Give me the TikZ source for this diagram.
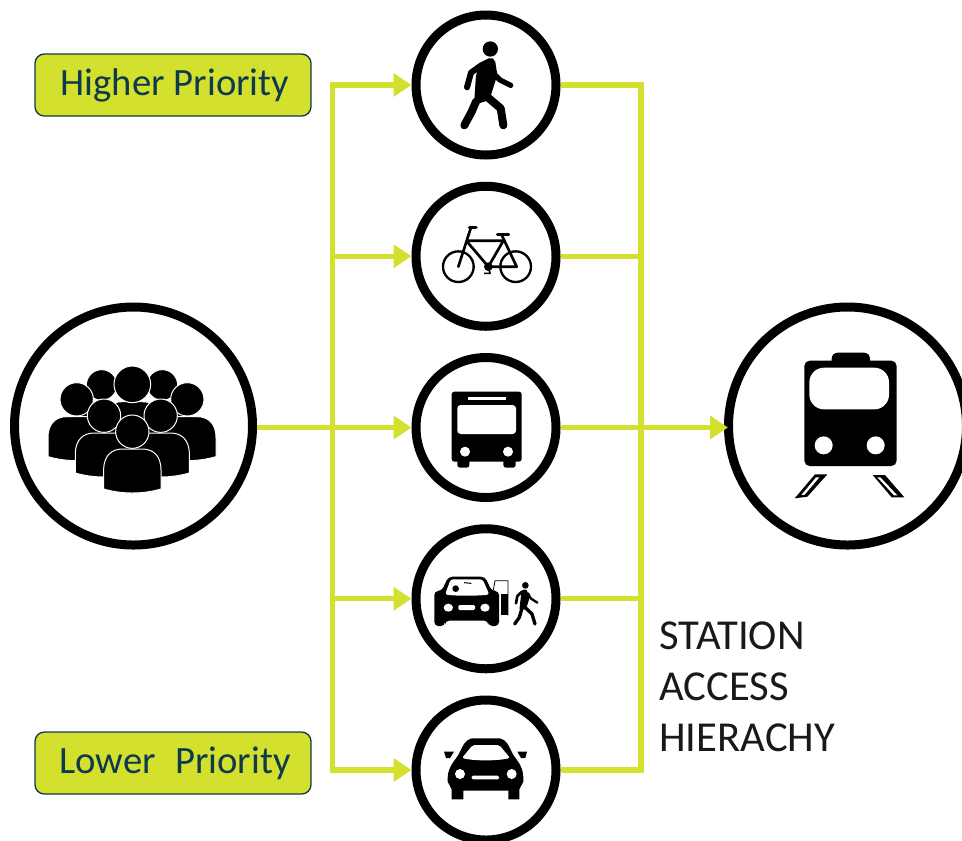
\documentclass[tikz,border=0pt]{standalone}
\usepackage{fontspec}
\setmainfont{Carlito}
\usetikzlibrary{arrows.meta}
\definecolor{limegreen}{HTML}{D3E02D}
\definecolor{deepteal}{HTML}{0F3A4E}
\tikzset{
	ring/.style={draw=black, circle, line width=6.75pt, inner sep=0pt, fill=white},
	link/.style={draw=limegreen, line width=4pt},
	flow/.style={link, -{Triangle[length=13.5pt, width=17pt]}},
	prioritybox/.style={draw=deepteal, fill=limegreen, rounded corners=7pt, line width=1pt, text=deepteal,
		minimum width=207pt, minimum height=46.5pt, inner sep=0pt, font=\fontsize{29}{32}\selectfont},
	icon/.style={x=.25pt, y=-.25pt},
	cutout/.style={fill=white}
}
\begin{document}
\begin{tikzpicture}[x=.75pt, y=-.75pt]
	\useasboundingbox (0,0) rectangle (962,840);
	% junctions of the two green trunks
	\coordinate (split) at (332.5,427.5);
	\coordinate (merge) at (641,427.5);
	% rings of the access modes
	\foreach \index in {1,...,5}
	{
		\node[ring, minimum size=105pt] (mode_\index) at (486,{85+(\index-1)*171.25}) {};
	}
	% end rings
	\node[ring, minimum size=178.5pt] (crowd) at (133.5,426) {};
	\node[ring, minimum size=178.5pt] (train) at (847.5,426) {};
	% trunks
	\draw[link, line cap=rect] (split |- mode_1) -- (split |- mode_5);
	\draw[link, line cap=rect] (merge |- mode_1) -- (merge |- mode_5);
	\draw[link] (crowd.east |- split) -- (split);
	% branches
	\foreach \index in {1,...,5}
	{
		\draw[flow] (split |- mode_\index) -- (mode_\index);
		\draw[link] (mode_\index) -- (merge |- mode_\index);
	}
	\draw[flow, shorten >=-3pt] (merge) -- (train.west |- merge);
	% labels
	\node[prioritybox] (higher) at (173,85) {\hspace{3pt}Higher Priority};
	\node[prioritybox] (lower) at (173,763) {\raisebox{-1.5pt}{\hspace{3pt}Lower\hspace{.27em} Priority}};
	\node[anchor=north west, align=left, inner sep=0pt, text=black!90,
		font=\fontsize{32}{38.2}\selectfont] (hierarchy) at (659,622) {STATION\\ACCESS\\HIERACHY};
	% walker
	\begin{scope}[shift={(400,0)}, icon]
		\fill (271,147) circle (23);
		\fill[rounded corners=1.5pt] (240,188) -- (272,172) -- (285,180) -- (292,225) -- (268,300) -- (222,315) -- (228,225) -- cycle;
		\draw[line width=4.5pt, line cap=round, line join=round] (245,195) -- (213,218) -- (201,262);
		\draw[line width=4pt, line cap=round, line join=round] (285,225) -- (300,240) -- (332,256);
		\draw[line width=6pt, line cap=round, line join=round] (255,285) -- (302,325) -- (310,376);
		\draw[line width=6pt, line cap=round, line join=round] (228,305) -- (215,335) -- (193,376);
	\end{scope}
	% bicycle
	\begin{scope}[shift={(400,0)}, icon]
		\draw[line width=1.75pt] (175,800) circle (46) (347,800) circle (46);
		\draw[line width=2pt, line join=round] (202,722) -- (310,722) -- (265,800) -- (202,726);
		\draw[line width=2pt, line join=round] (305,705) -- (350,800) -- (265,800);
		\draw[line width=2pt, line cap=round] (212,685) -- (175,800);
		\draw[line width=2.25pt, line cap=round] (208,683) -- (228,683);
		\draw[line width=2.25pt, line cap=round] (292,702) -- (326,702);
		\fill (265,800) circle (13);
		\draw[line width=1.25pt] (252,820) -- (270,820) -- (265,800);
	\end{scope}
	% bus
	\begin{scope}[shift={(400,350)}, icon]
		\fill[rounded corners=2pt] (155,125) rectangle (365,335);
		\fill[rounded corners=2pt] (172,325) rectangle (208,353);
		\fill[rounded corners=2pt] (310,325) rectangle (347,353);
		\fill[cutout, rounded corners=2.5pt] (172,165) rectangle (348,252);
		\fill[cutout] (203,142) rectangle (317,149);
		\fill[cutout] (195,305) circle (15) (324,305) circle (15);
	\end{scope}
	% car with door and passenger
	\begin{scope}[shift={(400,510)}, icon]
		\fill[rounded corners=3pt] (145,200) -- (255,200) -- (275,243) -- (297,243) -- (297,348) -- (265,348) -- (265,332) -- (135,332) -- (135,348) -- (103,348) -- (103,243) -- (125,243) -- cycle;
		\fill[cutout, rounded corners=2pt] (152,208) -- (248,208) -- (268,254) .. controls (220,258) and (180,258) .. (135,254) -- cycle;
		\fill (167,236) circle (10);
		\draw[line width=.75pt] (192,218) -- (214,220);
		\fill[cutout] (145,293) ellipse (14 and 12) (255,293) ellipse (14 and 12);
		\fill[cutout, rounded corners=1pt] (175,285) rectangle (225,300);
		% door
		\draw[line width=.6pt] (280,240) -- (285,212) -- (324,212) -- (324,316);
		\fill (303,252) rectangle (325,316);
		% passenger
		\fill (376,226) circle (10);
		\fill[rounded corners=1pt] (365,240) -- (380,238) -- (388,265) -- (378,298) -- (358,300) -- cycle;
		\draw[line width=2pt, line cap=round, line join=round] (366,245) -- (352,258) -- (348,280);
		\draw[line width=1.75pt, line cap=round, line join=round] (384,250) -- (392,265) -- (412,278);
		\draw[line width=2.5pt, line cap=round, line join=round] (378,295) -- (396,312) -- (405,342);
		\draw[line width=2.5pt, line cap=round, line join=round] (365,298) -- (358,322) -- (344,342);
	\end{scope}
	% car
	\begin{scope}[shift={(400,510)}, icon]
		\fill (215,685) -- (300,685) .. controls (320,690) and (325,705) .. (340,735) .. controls (358,760) and (372,775) .. (370,815) -- (358,838) -- (358,868) -- (325,868) -- (325,842) -- (190,842) -- (190,868) -- (155,868) -- (155,838) -- (143,815) .. controls (141,775) and (158,760) .. (175,735) .. controls (190,705) and (195,690) .. (215,685) -- cycle;
		\fill[cutout, rounded corners=1.5pt] (218,705) -- (298,705) -- (330,744) .. controls (290,753) and (225,753) .. (186,744) -- cycle;
		\fill (132,725) -- (162,725) -- (150,744) -- (138,744) -- cycle;
		\fill (352,725) -- (381,725) -- (376,744) -- (363,744) -- cycle;
		\fill[cutout] (180,792) circle (15) (335,792) circle (15);
		\fill[cutout, rounded corners=1pt] (215,797) rectangle (297,808);
	\end{scope}
	% crowd
	\begin{scope}[shift={(0,300)}, icon]
		\foreach \hx/\hy/\hr in {305/255/46, 487/255/46, 397/253/55, 230/298/50, 562/298/50, 312/347/50, 482/347/50, 397/395/50}
		{
			\filldraw[draw=white, line width=.75pt] (\hx-86,\hy+172) -- (\hx-86,\hy+115) .. controls (\hx-86,\hy+70) and (\hx-60,\hy+52) .. (\hx-30,\hy+52) -- (\hx+30,\hy+52) .. controls (\hx+60,\hy+52) and (\hx+86,\hy+70) .. (\hx+86,\hy+115) -- (\hx+86,\hy+172) .. controls (\hx+30,\hy+188) and (\hx-30,\hy+188) .. cycle;
			\filldraw[draw=white, line width=.75pt] (\hx,\hy) circle (\hr);
		}
	\end{scope}
	% train
	\begin{scope}[shift={(720,300)}, icon]
		\fill[rounded corners=2pt] (335,190) -- (335,168) -- (345,158) -- (440,158) -- (450,168) -- (450,190) -- cycle;
		\fill[rounded corners=4pt] (253,182) rectangle (530,498);
		\fill[cutout, rounded corners=11pt] (268,203) rectangle (507,328);
		\fill[cutout] (311,436) circle (27) (467,436) circle (27);
		\fill (285,523) -- (322,523) -- (262,590) -- (224,595) -- cycle;
		\fill[cutout] (288,532) -- (298,532) -- (254,584) -- (244,585) -- cycle;
		\fill (458,525) -- (495,525) -- (553,592) -- (515,592) -- cycle;
		\fill[cutout] (472,532) -- (481,532) -- (532,586) -- (522,586) -- cycle;
	\end{scope}
\end{tikzpicture}
\end{document}
